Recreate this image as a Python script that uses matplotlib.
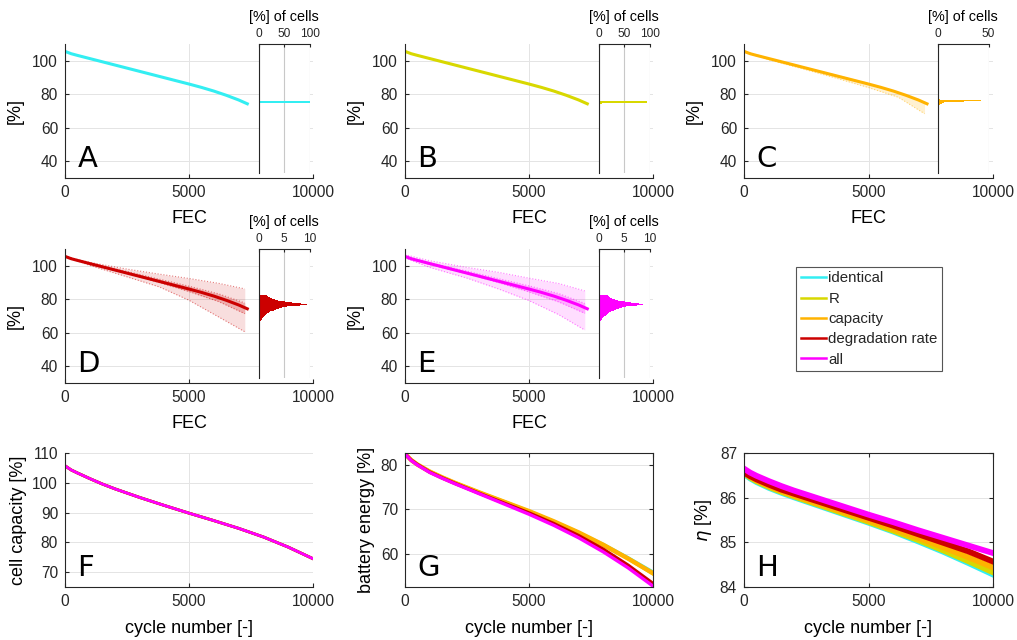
import matplotlib
matplotlib.use("Agg")
import matplotlib.pyplot as plt
import numpy as np

plt.rcParams['font.family'] = ['Liberation Sans', 'DejaVu Sans']
plt.rcParams['axes.edgecolor'] = '#262626'
plt.rcParams['xtick.color'] = '#262626'
plt.rcParams['ytick.color'] = '#262626'
plt.rcParams['text.color'] = '#262626'

# colours of the five variation scenarios
names = ['identical', 'R', 'capacity', 'degradation rate', 'all']
colors = ['#33EEF2', '#D8D800', '#FFB300', '#CC0000', '#FF00FF']

# mean capacity trajectory over full equivalent cycles (panels A-E)
fec = [0, 250, 500, 1000, 1500, 2000, 3000, 4000, 5000, 5500, 6000, 6500, 7000, 7350]
soh_mean = [105.6, 104.2, 103.2, 101.3, 99.4, 97.5, 93.7, 89.9, 86.1, 84.1, 81.9, 79.4, 76.6, 74.3]

# spread bands (panels C-E)
fec_band = [0, 1000, 2500, 3800, 5000, 6200, 7250]
c_lo = [105.3, 100.6, 94.6, 89.2, 84.0, 78.2, 68.4]
c_hi = [105.8, 101.4, 95.8, 91.0, 86.4, 81.0, 74.8]
d_out_hi = [105.6, 102.0, 98.0, 95.0, 92.4, 89.5, 86.2]
d_out_lo = [105.6, 100.2, 93.4, 87.4, 79.4, 69.4, 60.6]
d_in_hi = [105.6, 101.5, 96.6, 92.0, 87.8, 83.2, 77.8]
d_in_lo = [105.6, 100.9, 95.4, 90.0, 84.6, 78.6, 71.4]
e_out_hi = [106.6, 103.0, 99.0, 96.0, 92.6, 89.4, 85.0]
e_out_lo = [104.6, 99.0, 92.6, 86.0, 79.2, 70.8, 61.6]
e_in_hi = [105.9, 101.8, 96.8, 92.2, 88.0, 83.4, 77.5]
e_in_lo = [105.3, 100.6, 95.2, 89.8, 84.4, 78.4, 71.6]

# end-of-life histograms ([%] of cells)
hist_a_bins = [75.5]
hist_a_pct = [100]
hist_b_bins = [74.8, 75.5]
hist_b_pct = [5, 95]
hist_c_bins = [73.8, 74.2, 74.6, 75.0, 75.4, 75.8, 76.2, 76.6, 77.0]
hist_c_pct = [1.5, 3, 4, 6, 10, 26, 43, 3, 1.5]
hist_de_bins = [66.5, 67, 67.5, 68, 68.5, 69, 69.5, 70, 70.5, 71, 71.5, 72, 72.5,
                73, 73.5, 74, 74.5, 75, 75.5, 76, 76.5, 77, 77.5, 78, 78.5, 79,
                79.5, 80, 80.5, 81, 81.5, 82, 82.5]
hist_d_pct = [0.1, 0.3, 0.4, 0.5, 0.6, 0.7, 0.9, 1.0, 1.2, 1.4, 1.6, 1.9, 2.2,
              2.5, 2.9, 3.3, 3.9, 4.6, 5.6, 6.8, 8.2, 9.6, 8.4, 6.6, 5.2, 4.4,
              3.8, 3.1, 2.6, 2.1, 1.8, 1.6, 1.4]
hist_e_pct = [0.1, 0.2, 0.4, 0.5, 0.6, 0.8, 0.9, 1.1, 1.3, 1.5, 1.7, 2.0, 2.3,
              2.6, 3.0, 3.4, 3.9, 4.5, 5.3, 6.3, 7.6, 8.8, 7.9, 6.3, 5.1, 4.3,
              3.7, 3.1, 2.6, 2.2, 1.9, 1.7, 1.5]

# battery level results over cycle number (panels F-H)
cycles = [0, 250, 500, 1000, 1500, 2000, 3000, 4000, 5000, 6000, 7000, 8000, 9000, 10000]
cell_cap = [105.7, 104.3, 103.3, 101.4, 99.6, 98.0, 95.1, 92.4, 89.8, 87.3, 84.7, 81.8, 78.4, 74.5]
energy = {
    'identical':        [82.5, 81.1, 80.1, 78.5, 77.2, 76.0, 73.8, 71.7, 69.6, 67.3, 64.8, 62.1, 59.1, 55.9],
    'R':                [82.5, 81.1, 80.1, 78.5, 77.2, 76.0, 73.8, 71.7, 69.5, 67.2, 64.7, 61.9, 58.9, 55.5],
    'capacity':         [82.5, 81.1, 80.1, 78.5, 77.2, 76.0, 73.8, 71.7, 69.6, 67.3, 64.8, 62.0, 58.9, 55.6],
    'degradation rate': [82.5, 81.1, 80.1, 78.4, 77.1, 75.9, 73.6, 71.4, 69.2, 66.8, 64.1, 61.0, 57.4, 53.3],
    'all':              [82.5, 81.0, 80.0, 78.3, 77.0, 75.8, 73.5, 71.2, 68.9, 66.4, 63.6, 60.4, 56.8, 52.7],
}
eta = {
    'identical':        [86.53, 86.43, 86.35, 86.22, 86.11, 86.01, 85.82, 85.63, 85.44, 85.24, 85.02, 84.79, 84.54, 84.28],
    'R':                [86.55, 86.45, 86.37, 86.24, 86.13, 86.03, 85.84, 85.65, 85.46, 85.26, 85.05, 84.82, 84.58, 84.33],
    'capacity':         [86.57, 86.47, 86.39, 86.26, 86.15, 86.05, 85.86, 85.68, 85.49, 85.30, 85.10, 84.89, 84.67, 84.44],
    'degradation rate': [86.56, 86.48, 86.41, 86.29, 86.18, 86.09, 85.91, 85.73, 85.55, 85.37, 85.18, 84.99, 84.80, 84.57],
    'all':              [86.65, 86.56, 86.49, 86.37, 86.26, 86.16, 85.98, 85.80, 85.62, 85.45, 85.27, 85.10, 84.93, 84.76],
}

W, H = 1017, 640
fig = plt.figure(figsize=(W / 100, H / 100), dpi=100)


def px_axes(l, t, r, b):
    return fig.add_axes([l / W, 1 - b / H, (r - l) / W, (b - t) / H])


def style(ax, box=False):
    ax.tick_params(direction='in', length=3, labelsize=11.2, pad=5,
                   top=box, right=box)
    for s in ['top', 'right']:
        ax.spines[s].set_visible(box)
    ax.grid(True, color='#E4E4E4', lw=0.7)
    ax.set_axisbelow(True)


def letter(ax, s):
    ax.text(0.05, 0.08, s, transform=ax.transAxes, fontsize=21,
            family='DejaVu Sans', color='black', va='baseline', ha='left')


cols = [(65, 313), (405, 653), (744, 993)]
rows = [(44, 178), (249, 383), (453, 587)]

panels = [
    ('A', 0, 0, 0, hist_a_bins, hist_a_pct, 1.2, [0, 50, 100], 100),
    ('B', 0, 1, 1, hist_b_bins, hist_b_pct, 1.0, [0, 50, 100], 100),
    ('C', 0, 2, 2, hist_c_bins, hist_c_pct, 0.4, [0, 50], 50),
    ('D', 1, 0, 3, hist_de_bins, hist_d_pct, 0.5, [0, 5, 10], 10),
    ('E', 1, 1, 4, hist_de_bins, hist_e_pct, 0.5, [0, 5, 10], 10),
]
bands = {
    'C': [(c_lo, c_hi, 0.18)],
    'D': [(d_out_lo, d_out_hi, 0.13), (d_in_lo, d_in_hi, 0.22)],
    'E': [(e_out_lo, e_out_hi, 0.13), (e_in_lo, e_in_hi, 0.22)],
}

for lab, r, c, k, bins, pct, bh, xt, xmax in panels:
    l, rr = cols[c]
    t, b = rows[r]
    ax = px_axes(l, t, rr, b)
    col = colors[k]
    for lo, hi, a in bands.get(lab, []):
        ax.fill_between(fec_band, lo, hi, color=col, alpha=a, lw=0)
        ax.plot(fec_band, lo, ':', color=col, lw=0.8, alpha=0.5)
        ax.plot(fec_band, hi, ':', color=col, lw=0.8, alpha=0.5)
    ax.plot(fec, soh_mean, color=col, lw=2.2)
    ax.set_xlim(0, 10000)
    ax.set_ylim(30, 110)
    ax.set_xticks([0, 5000, 10000])
    ax.set_yticks([40, 60, 80, 100])
    ax.set_xlabel('FEC', fontsize=13, labelpad=7)
    ax.set_ylabel('[%]', fontsize=13, labelpad=6)
    style(ax)
    letter(ax, lab)

    # histogram inset
    ins = px_axes(l + 194, t, l + 244.5, b - 5)
    ins.barh(bins, pct, height=bh, color=col, lw=0)
    ins.set_xlim(0, xmax)
    ins.set_ylim(30 + 5 / ((b - t) / 80), 110)
    ins.set_xticks(xt)
    ins.set_yticks([])
    ins.xaxis.tick_top()
    ins.xaxis.set_label_position('top')
    ins.set_xlabel('[%] of cells', fontsize=10.4, labelpad=5)
    ins.tick_params(axis='x', direction='in', length=2, labelsize=8.6, pad=3)
    ins.spines['right'].set_visible(False)
    ins.spines['bottom'].set_visible(False)
    ins.grid(True, axis='x', color='#C8C8C8', lw=0.8)
    ins.set_axisbelow(True)

# F: cell capacity
axF = px_axes(cols[0][0], rows[2][0], cols[0][1], rows[2][1])
for k in range(5):
    axF.plot(cycles, cell_cap, color=colors[k], lw=2)
axF.set_xlim(0, 10000)
axF.set_ylim(65, 110)
axF.set_xticks([0, 5000, 10000])
axF.set_yticks([70, 80, 90, 100, 110])
axF.set_xlabel('cycle number [-]', fontsize=13, labelpad=8)
axF.set_ylabel('cell capacity [%]', fontsize=13)
style(axF)
letter(axF, 'F')

# G: battery energy
axG = px_axes(cols[1][0], rows[2][0], cols[1][1], rows[2][1])
for k, n in enumerate(names):
    lw = [2.2, 2.6, 3.2, 2.4, 2.4][k]
    axG.plot(cycles, energy[n], color=colors[k], lw=lw, label=n)
axG.set_xlim(0, 10000)
axG.set_ylim(52.5, 82.7)
axG.set_xticks([0, 5000, 10000])
axG.set_yticks([60, 70, 80])
axG.set_xlabel('cycle number [-]', fontsize=13, labelpad=8)
axG.set_ylabel('battery energy [%]', fontsize=13)
style(axG, box=True)
letter(axG, 'G')

# H: efficiency
axH = px_axes(cols[2][0], rows[2][0], cols[2][1], rows[2][1])
for k, n in enumerate(names):
    axH.plot(cycles, eta[n], color=colors[k], lw=4.2)
axH.set_xlim(0, 10000)
axH.set_ylim(84, 87)
axH.set_xticks([0, 5000, 10000])
axH.set_yticks([84, 85, 86, 87])
axH.set_xlabel('cycle number [-]', fontsize=13, labelpad=8)
axH.set_ylabel(r'$\eta$ [%]', fontsize=13)
style(axH, box=True)
letter(axH, 'H')

leg_handles = [plt.Line2D([], [], color=colors[k], lw=1.8) for k in range(5)]
leg = fig.legend(leg_handles, names, loc='upper left',
                 bbox_to_anchor=(796 / W, 1 - 267 / H), fontsize=10.8,
                 frameon=True, fancybox=False, framealpha=1, borderpad=0.3,
                 handlelength=1.7, handletextpad=0.15, labelspacing=0.42,
                 borderaxespad=0)
leg.get_frame().set_edgecolor('#555555')
leg.get_frame().set_linewidth(0.8)

fig.savefig('out.png', dpi=100)
